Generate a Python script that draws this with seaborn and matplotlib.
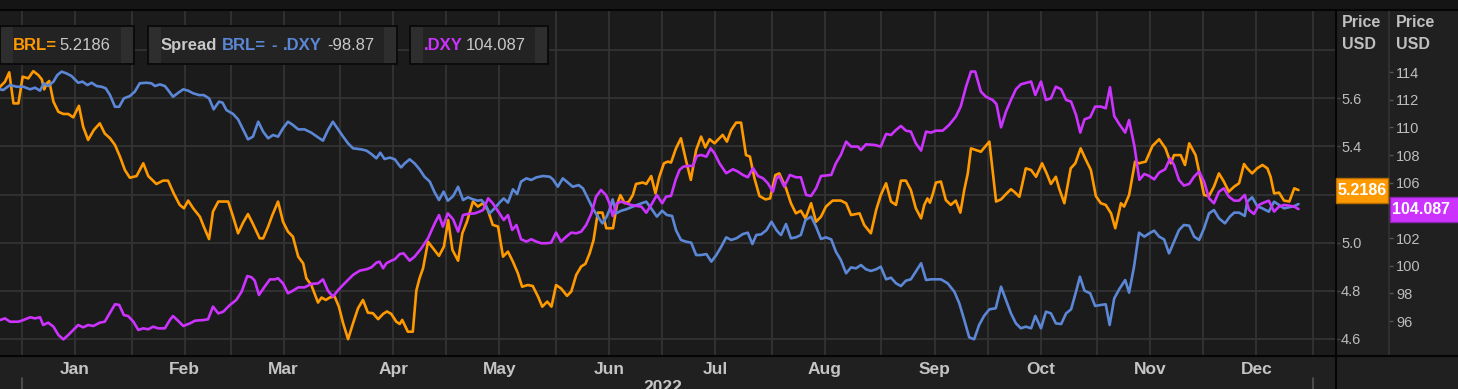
import numpy as np
import pandas as pd
import matplotlib
matplotlib.use("Agg")
import matplotlib.pyplot as plt
from matplotlib.patches import Rectangle
from matplotlib.lines import Line2D
import seaborn as sns

# ---------------- data (days since 2022-01-01, values) ----------------
brl_day = [-6.2,-4.8,-3.6,-2.4,-1.0,0.2,1.8,3.2,4.6,5.6,6.3,7.0,7.7,8.9,10.3,11.7,13.1,14.5,16.1,17.3,
           18.7,20.3,22.0,23.4,24.9,26.3,27.7,29.1,30.5,32.4,34.3,35.7,38.0,39.9,41.3,42.9,44.6,45.8,47.0,48.4,
           50.3,51.4,52.9,54.0,55.5,58.3,59.7,61.1,62.5,63.9,65.3,67.2,68.2,69.6,70.8,72.4,73.8,75.2,76.6,78.1,
           79.5,80.4,81.8,83.7,84.7,85.9,87.0,88.4,89.6,90.8,92.2,93.6,95.0,96.4,97.8,99.2,100.7,102.1,103.2,104.4,
           105.8,106.8,
           107.5,109.1,110.5,111.5,112.4,113.4,114.8,116.2,117.9,119.3,120.5,121.7,123.3,124.5,125.8,
           127.5,128.9,130.3,131.7,133.1,134.6,136.0,137.4,138.8,140.2,141.4,143.0,144.4,145.9,147.1,
           148.5,149.7,151.0,152.4,154.1,155.3,156.7,158.1,159.3,160.5,161.6,162.8,164.1,165.2,167.1,
           168.2,169.2,170.4,171.6,172.7,173.6,175.5,176.5,177.9,179.1,180.2,181.5,182.6,183.5,184.9,
           186.3,187.7,189.1,190.6,192.0,193.2,194.4,195.8,196.7,198.1,199.3,200.5,201.9,203.3,204.7,
           205.8,207.1,208.5,210.2,211.5,213.0,214.1,
           216.0,217.4,218.8,220.2,221.5,223.1,224.5,225.9,227.3,229.2,231.5,233.0,234.4,236.8,238.1,
           240.0,241.5,242.8,244.3,245.7,247.1,248.5,249.9,251.3,252.7,254.2,255.1,256.0,256.7,257.5,
           258.4,259.8,261.2,262.6,264.0,265.3,266.4,267.4,268.3,269.7,271.1,273.5,275.4,276.8,278.2,
           279.6,280.5,282.0,283.8,285.3,286.7,288.4,289.7,290.9,292.3,293.2,294.7,296.5,297.8,299.3,
           300.8,302.2,303.6,305.0,306.4,307.9,309.1,310.7,311.6,313.0,314.7,315.8,317.7,319.6,321.5,
           323.3,324.8,325.7,327.6,328.8,330.0,331.8,332.8,334.2,335.6,337.0,338.4,339.8,341.2,342.7,
           344.1,345.5,346.4,347.8,349.2,350.7,352.1,353.0,354.0,355.4,356.8,358.3,359.7,360.9]
brl_val = [5.648,5.669,5.708,5.579,5.579,5.690,5.683,5.713,5.697,5.679,5.637,5.662,5.672,5.586,5.544,
           5.535,5.535,5.521,5.569,5.482,5.427,5.468,5.496,5.454,5.434,5.406,5.358,5.302,5.270,5.277,
           5.330,5.277,5.244,5.258,5.258,5.205,5.157,5.143,5.175,5.143,5.108,5.067,5.015,5.129,5.171,
           5.171,5.108,5.039,5.083,5.119,5.078,5.018,5.018,5.067,5.115,5.171,5.087,5.046,5.025,4.942,
           4.914,4.852,4.824,4.751,4.772,4.762,4.772,4.776,4.734,4.665,4.599,4.665,4.727,4.762,4.709,
           4.707,4.682,4.704,4.714,4.704,4.672,4.662,
           4.679,4.630,4.630,4.801,4.852,4.894,5.004,4.977,4.945,4.984,5.094,4.970,4.925,5.039,5.087,
           5.171,5.150,5.164,5.136,5.074,5.067,4.942,4.963,4.921,4.873,4.817,4.824,4.820,4.776,4.734,
           4.755,4.734,4.824,4.810,4.779,4.797,4.866,4.901,4.912,4.956,5.011,5.125,5.125,5.060,5.060,
           5.157,5.198,5.164,5.171,5.198,5.244,5.250,5.244,5.277,5.205,5.274,5.330,5.337,5.333,5.392,
           5.434,5.344,5.261,5.385,5.441,5.396,5.430,5.413,5.427,5.448,5.420,5.468,5.499,5.499,5.364,
           5.358,5.267,5.194,5.180,5.184,5.281,5.288,
           5.226,5.164,5.122,5.133,5.101,5.164,5.087,5.108,5.150,5.175,5.175,5.164,5.115,5.122,5.074,
           5.039,5.136,5.198,5.247,5.171,5.157,5.258,5.258,5.219,5.143,5.101,5.157,5.184,5.166,5.202,
           5.250,5.254,5.177,5.157,5.175,5.125,5.219,5.288,5.392,5.385,5.378,5.420,5.171,5.180,5.202,
           5.222,5.212,5.191,5.309,5.302,5.274,5.330,5.288,5.244,5.274,5.226,5.164,5.309,5.330,5.392,
           5.344,5.302,5.194,5.164,5.157,5.122,5.060,5.164,5.150,5.198,5.337,5.330,5.337,5.402,5.430,
           5.392,5.330,5.364,5.364,5.323,5.413,5.364,5.295,5.198,5.194,5.233,5.288,5.254,5.212,5.233,
           5.247,5.327,5.309,5.288,5.309,5.323,5.309,5.274,5.205,5.208,5.175,5.171,5.226,5.2186]

dxy_day = [-6.2,-4.8,-3.4,-1.0,0.4,2.3,3.7,5.1,6.0,7.4,8.9,10.3,11.7,13.1,14.5,15.9,17.3,18.7,20.2,22.0,
           23.4,24.9,26.3,27.5,28.8,30.0,31.5,32.9,34.3,35.7,37.1,38.5,40.4,41.8,42.7,44.2,45.6,47.5,48.9,51.2,
           52.6,54.0,55.5,56.9,58.8,60.6,62.1,63.7,64.9,65.8,67.0,68.6,70.1,71.5,72.4,73.8,75.2,76.6,78.1,79.9,
           81.8,83.7,85.1,86.5,87.9,89.4,91.2,93.6,95.5,97.4,98.8,100.2,101.1,102.1,103.0,104.4,105.4,106.8,
           107.9,109.6,111.0,112.9,114.8,116.7,117.9,119.0,120.4,121.9,123.3,124.7,126.1,128.0,129.4,
           130.4,131.8,133.1,135.0,136.2,137.4,138.6,139.8,141.1,142.6,144.0,145.4,146.8,148.2,149.6,
           151.0,152.4,153.9,155.3,156.7,158.1,159.5,161.0,162.3,163.7,165.1,166.1,167.0,168.2,169.4,
           170.8,172.2,173.6,175.1,176.5,177.9,179.5,181.0,182.1,183.5,184.8,185.9,187.0,188.3,189.7,
           190.8,192.0,193.5,194.7,195.8,197.2,199.1,201.0,202.4,203.8,205.2,206.7,208.1,209.5,210.9,
           212.3,213.3,214.1,
           215.5,217.1,218.8,220.2,221.7,223.1,224.5,225.9,228.8,230.1,231.5,233.0,234.4,236.3,237.2,
           238.6,241.0,242.8,244.3,245.7,247.1,248.5,249.9,251.3,252.7,254.2,255.6,257.0,258.4,260.3,
           262.1,264.0,265.4,266.9,268.3,269.5,271.1,272.5,274.4,275.5,276.8,278.2,279.6,281.0,282.4,
           285.3,286.5,288.1,289.5,290.9,292.3,293.8,295.2,296.6,298.0,299.2,300.4,302.0,303.4,305.0,
           306.4,307.6,308.8,310.2,311.9,313.0,314.5,315.9,317.3,318.7,320.1,321.5,
           323.2,324.6,325.7,327.1,328.5,330.0,331.4,332.8,334.2,335.6,337.0,338.4,339.8,341.2,342.7,
           344.1,345.7,346.9,348.3,349.7,351.1,352.5,354.0,355.4,356.8,358.2,359.7,360.9]
dxy_val = [96.07,96.19,95.95,95.95,96.07,96.27,96.19,96.27,95.71,95.88,95.59,94.99,94.67,94.99,95.35,
           95.71,95.54,95.71,95.64,95.88,95.95,96.60,97.21,97.16,96.43,96.36,95.95,95.35,95.47,95.40,
           95.59,95.47,95.47,96.07,96.36,96.00,95.64,95.83,96.02,96.07,96.12,97.04,96.55,96.67,97.16,
           97.52,98.12,99.25,99.16,98.92,97.88,98.48,99.01,99.01,99.09,98.72,98.00,98.19,98.43,98.43,
           98.68,98.72,99.01,98.19,97.76,98.24,98.72,99.33,99.64,99.74,99.88,100.22,100.29,99.81,100.17,
           100.36,100.46,100.84,
           100.89,100.36,100.65,101.25,101.98,103.06,103.66,102.82,103.78,103.35,102.46,103.66,103.74,103.78,103.91,
           104.03,104.87,104.51,103.78,103.30,103.66,102.58,102.94,101.91,101.74,101.91,101.74,101.62,101.62,101.66,
           102.39,101.74,102.10,102.39,102.34,102.46,102.94,103.78,104.99,105.47,105.11,104.51,103.59,104.51,104.63,
           104.51,104.39,104.32,104.27,103.83,104.39,105.11,104.51,104.99,105.04,106.20,106.92,107.16,107.21,107.21,
           107.93,108.00,107.88,108.48,108.12,107.40,106.68,106.97,106.80,106.56,106.39,107.04,106.48,106.32,105.95,
           105.35,106.32,106.48,
           105.71,106.56,106.39,106.39,105.11,105.04,105.59,106.48,106.56,107.40,108.00,108.97,108.61,108.61,108.36,
           108.77,108.73,108.61,109.52,109.45,109.81,110.10,109.76,109.69,108.85,108.32,109.69,109.62,109.76,109.76,
           110.17,110.77,111.50,112.94,114.03,114.03,112.58,112.22,111.98,111.69,110.00,111.14,111.98,112.75,113.11,
           113.31,112.34,113.31,111.98,112.10,112.94,112.75,111.98,111.86,110.90,109.62,110.58,110.73,111.50,111.50,
           111.38,112.90,110.82,110.24,109.62,110.53,108.65,106.20,106.63,106.48,106.24,106.73,
           106.97,107.76,107.28,106.20,105.79,105.91,106.44,106.80,106.07,104.87,104.51,105.35,105.59,104.99,104.70,
           104.70,105.11,104.03,103.74,104.39,104.56,104.70,103.91,104.27,104.39,104.34,104.27,104.087]

spread_day = [-6.2,-5.3,-3.4,-1.5,0.4,2.3,3.7,5.1,6.2,7.4,8.9,10.0,11.2,12.6,14.0,15.9,17.1,18.5,19.7,21.1,
              22.5,23.7,24.9,26.3,27.5,28.8,30.5,31.9,33.3,35.2,36.6,37.6,39.0,40.4,41.3,42.7,44.2,45.6,47.0,48.4,
              50.1,51.4,52.9,54.2,55.7,56.7,57.8,59.7,61.1,62.5,63.9,65.3,66.8,68.2,69.6,71.0,72.4,73.8,75.2,76.6,
              78.1,79.9,81.8,83.7,85.1,86.5,87.9,89.4,90.8,92.2,93.6,96.0,97.4,98.8,100.2,101.3,102.5,104.0,105.4,106.8,
              107.2,108.2,109.6,111.0,112.4,113.8,115.3,116.7,117.9,119.2,120.4,121.9,123.3,124.7,126.1,
              127.5,128.9,129.9,131.1,132.2,133.6,135.0,136.2,137.4,138.8,140.0,141.1,142.6,144.0,145.4,
              147.3,149.2,150.1,151.5,152.9,154.4,155.7,157.4,158.6,160.0,161.4,162.8,164.1,165.2,166.1,
              167.0,168.0,169.4,170.8,172.7,174.6,176.5,177.9,179.5,181.0,182.3,183.8,184.9,186.3,187.8,
              189.2,190.6,192.0,193.5,194.9,196.3,197.7,199.1,200.5,202.0,203.8,205.2,206.5,207.6,209.0,
              210.5,211.9,213.3,214.1,
              214.6,216.0,217.4,218.8,220.2,221.5,223.1,224.5,225.9,227.3,228.8,230.1,231.5,233.0,234.4,
              235.8,237.2,238.6,240.0,241.5,242.8,244.3,245.7,247.1,248.5,249.9,251.3,252.7,254.2,255.6,
              257.0,259.8,261.7,263.6,265.0,266.4,267.8,269.2,270.6,272.0,273.5,275.3,276.8,278.2,279.6,
              281.0,282.4,283.8,285.3,286.5,288.1,289.5,290.9,292.3,293.8,295.2,296.6,298.0,299.1,300.4,
              302.0,303.4,305.0,306.4,307.5,308.8,310.2,311.9,313.0,314.4,315.8,317.3,318.7,320.1,321.5,
              322.9,324.3,325.7,327.1,328.5,330.0,331.4,332.8,334.2,335.6,337.0,338.4,340.1,341.5,342.7,
              344.1,345.7,346.4,347.8,349.2,350.7,352.5,354.0,355.4,356.8,358.2,359.7,360.9]
spread_val = [-90.51,-90.56,-90.20,-90.32,-90.32,-90.51,-90.39,-90.61,-90.07,-90.27,-89.95,-89.47,-89.22,-89.35,-89.54,
              -90.03,-89.95,-90.20,-90.03,-90.27,-90.32,-90.44,-90.93,-91.78,-91.78,-91.17,-91.00,-90.68,-90.07,-90.03,
              -90.07,-90.27,-90.15,-90.27,-90.56,-91.05,-90.76,-90.51,-90.61,-90.80,-90.93,-90.93,-91.17,-91.97,-91.41,
              -91.48,-92.02,-92.31,-92.70,-93.43,-94.16,-93.96,-92.87,-93.60,-94.08,-93.84,-93.96,-93.35,-92.87,-93.11,
              -93.43,-93.43,-93.67,-94.01,-94.25,-93.48,-92.87,-93.43,-93.96,-94.45,-94.81,-94.89,-94.98,-95.23,-95.54,
              -95.13,-95.59,-95.49,-95.61,-96.10,
              -96.20,-95.91,-95.61,-95.91,-96.34,-96.88,-97.24,-98.04,-98.58,-97.97,-98.63,-98.29,-97.61,-98.58,-98.38,
              -98.53,-98.63,-98.58,-98.94,-99.55,-99.19,-98.77,-98.46,-98.77,-97.80,-98.14,-97.24,-97.00,-97.12,-96.93,
              -96.83,-96.88,-97.07,-97.61,-97.00,-97.32,-97.61,-97.49,-97.73,-98.46,-99.19,-99.79,-100.28,-99.84,-99.31,
              -98.53,-99.55,-99.36,-99.26,-99.06,-98.87,-98.70,-99.19,-99.79,-99.36,-99.67,-99.74,-100.77,-101.49,-101.62,
              -101.69,-102.59,-102.59,-102.52,-103.07,-102.59,-101.98,-101.30,-101.49,-101.37,-101.06,-100.96,-101.79,-101.13,-101.08,
              -100.77,-100.16,-100.77,-101.01,
              -101.13,-100.33,-101.37,-101.30,-101.13,-100.04,-99.79,-100.52,-101.42,-101.30,-101.45,-102.34,-102.95,-103.92,-103.49,
              -103.56,-103.32,-103.63,-103.75,-103.63,-103.44,-104.36,-104.24,-104.65,-104.85,-104.46,-104.36,-103.80,-103.19,-104.41,
              -104.36,-104.36,-104.65,-105.26,-106.11,-107.32,-108.59,-108.73,-107.69,-107.03,-106.55,-106.47,-104.90,-105.87,-106.84,
              -107.57,-107.93,-107.81,-107.93,-107.03,-107.93,-106.72,-106.84,-107.57,-107.62,-106.84,-106.55,-105.26,-104.17,-105.19,
              -105.38,-106.30,-106.23,-106.18,-107.69,-105.75,-105.09,-104.41,-105.33,-103.44,-100.96,-101.25,-101.01,-100.81,-101.25,
              -101.45,-102.47,-101.62,-100.77,-100.40,-100.45,-101.25,-101.49,-100.64,-99.55,-99.31,-99.91,-100.28,-99.79,-99.50,
              -99.50,-99.74,-98.70,-98.38,-99.02,-99.19,-99.43,-98.70,-98.94,-99.19,-99.11,-99.02,-98.87]

months = ["Jan", "Feb", "Mar", "Apr", "May", "Jun", "Jul", "Aug", "Sep", "Oct", "Nov", "Dec"]
year_label = "2022"
brl_name, dxy_name = "BRL=", ".DXY"
spread_name = "Spread"
axis_title = ["Price", "USD"]
brl_ticks = [4.6, 4.8, 5.0, 5.2, 5.4, 5.6]
dxy_ticks = [96, 98, 100, 102, 104, 106, 108, 110, 112, 114]

# ---------------- style ----------------
sns.set_theme(style="dark")
plt.rcParams["font.family"] = ["Liberation Sans", "DejaVu Sans"]

ORANGE = "#FF9900"
PURPLE = "#CC33FF"
BLUE = "#5B87D6"
FIG_BG = "#202020"
PLOT_BG = "#1b1b1b"
GRID = "#333333"
TXT = "#bdbdbd"
PX = 72 / 100  # points per pixel

W, H = 1458, 389
fig = plt.figure(figsize=(W / 100, H / 100), dpi=100, facecolor=FIG_BG)

def fx(x):
    return x / W

def fy(y):
    return 1 - y / H

PL, PR, PT, PB = 0, 1336, 11, 356
ax = fig.add_axes([fx(PL), fy(PB), fx(PR - PL), (PB - PT) / H])
ax.set_facecolor(PLOT_BG)
ax_spr = ax.twinx()
ax_dxy = ax.twinx()

base = pd.Timestamp("2022-01-01")
def to_dt(days):
    return base + pd.to_timedelta(np.asarray(days, dtype=float), unit="D")

sns.lineplot(x=to_dt(brl_day), y=brl_val, ax=ax, color=ORANGE, linewidth=1.9, estimator=None, sort=False)
sns.lineplot(x=to_dt(spread_day), y=spread_val, ax=ax_spr, color=BLUE, linewidth=1.9, estimator=None, sort=False)
sns.lineplot(x=to_dt(dxy_day), y=dxy_val, ax=ax_dxy, color=PURPLE, linewidth=1.9, estimator=None, sort=False)

for a in (ax, ax_spr, ax_dxy):
    a.set_xlabel("")
    a.set_ylabel("")
    for s in a.spines.values():
        s.set_visible(False)

ax.set_xlim(base + pd.Timedelta(days=-6.21), base + pd.Timedelta(days=371.5))
ax.set_ylim(4.529, 5.963)
ax_dxy.set_ylim(93.47, 118.41)
ax_spr.set_ylim(-109.95, -84.80)

# x ticks: month starts (marks + grid), mid-month (labels + grid)
month_starts = pd.date_range("2022-01-01", "2023-01-01", freq="MS")
mid_months = pd.date_range("2022-01-01", periods=12, freq="MS") + pd.Timedelta(days=15)
ax.set_xticks(month_starts, labels=[""] * len(month_starts))
ax.set_xticks(mid_months, labels=months, minor=True, fontweight="bold", fontsize=12.5, color="#c4c4c4")
ax.tick_params(axis="x", which="major", length=7 * PX, width=1, color="#454545", direction="out")
ax.tick_params(axis="x", which="minor", length=0, pad=6 * PX)

# BRL axis (right, inner)
ax.yaxis.tick_right()
ax.set_yticks(brl_ticks, labels=[f"{t:.1f}" for t in brl_ticks])
ax.set_yticks([5.8], minor=True)
ax.tick_params(axis="y", which="major", length=4 * PX, width=1, color="#444444", pad=1 * PX,
               labelsize=10.5, labelcolor=TXT, direction="out")
ax.tick_params(axis="y", which="minor", length=0)
ax.grid(True, which="both", color=GRID, linewidth=1.3)
ax.set_axisbelow(True)

# DXY axis (right, outer)
ax_dxy.grid(False)
ax_dxy.spines["right"].set_visible(True)
ax_dxy.spines["right"].set_position(("outward", 53 * PX))
ax_dxy.spines["right"].set_color("#343434")
ax_dxy.spines["right"].set_linewidth(1.2)
ax_dxy.set_yticks(dxy_ticks, labels=[str(t) for t in dxy_ticks])
ax_dxy.tick_params(axis="y", length=4 * PX, width=1, color="#555555", pad=3 * PX, labelsize=10.5,
                   labelcolor=TXT, direction="out")

# spread axis hidden
ax_spr.grid(False)
ax_spr.set_yticks([])
ax_spr.tick_params(axis="both", length=0)

# ---------------- frame decorations ----------------
fig.patches.append(Rectangle((0, fy(10)), 1, 10 / H, transform=fig.transFigure,
                             facecolor="#151515", edgecolor="none", zorder=0))
for (x0, y0, x1, y1, c, lw) in [(0, 10, W, 10, "#050505", 1.5),
                                (0, 356, W, 356, "#050505", 1.5),
                                (1336, 10, 1336, H, "#050505", 1.5)]:
    fig.lines.append(Line2D([fx(x0), fx(x1)], [fy(y0), fy(y1)], transform=fig.transFigure,
                            color=c, linewidth=lw, zorder=5))

# year-boundary marks in the date band
fig.canvas.draw()
for yd_ in (pd.Timestamp("2022-01-01"), pd.Timestamp("2023-01-01")):
    xd = ax.transData.transform((plt.matplotlib.dates.date2num(yd_), 0))[0]
    fig.lines.append(Line2D([xd / W, xd / W], [fy(378), fy(389)], transform=fig.transFigure,
                            color="#4a4a4a", linewidth=1.5, zorder=5))

# axis headers
for xh in (1342, 1396):
    fig.text(fx(xh), fy(27), axis_title[0], ha="left", va="baseline", fontsize=11.5,
             fontweight="bold", color="#c0c0c0")
    fig.text(fx(xh), fy(49), axis_title[1], ha="left", va="baseline", fontsize=11.5,
             fontweight="bold", color="#c0c0c0")

# year label under months (cut by the bottom edge as in the original)
fig.text(fx(663), fy(391.5), year_label, ha="center", va="baseline", fontsize=12.5,
         fontweight="bold", color="#c4c4c4")

# last-value tags
def disp_y(a, v):
    return a.transData.transform((0, v))[1]

yb = disp_y(ax, brl_val[-1])
yd = disp_y(ax_dxy, dxy_val[-1])
fig.patches.append(Rectangle((1336, yb - 12.5), 52, 25, transform=None, facecolor=ORANGE,
                             edgecolor="#b36b00", linewidth=1, zorder=6))
fig.text(1338 / W, yb / H, f"{brl_val[-1]:.4f}", ha="left", va="center", fontsize=11.5,
         fontweight="bold", color="white", zorder=7)
fig.patches.append(Rectangle((1390, yd - 12.5), 70, 25, transform=None, facecolor=PURPLE,
                             edgecolor="#8f24b3", linewidth=1, zorder=6))
fig.text(1392 / W, yd / H, f"{dxy_val[-1]:.3f}", ha="left", va="center", fontsize=11.5,
         fontweight="bold", color="white", zorder=7)

# ---------------- legend boxes ----------------
def box(x0, x1):
    fig.patches.append(Rectangle((fx(x0), fy(64)), fx(x1 - x0), 38 / H, transform=fig.transFigure,
                                 facecolor="#232323", edgecolor="#080808", linewidth=1.2, zorder=8))
    for sx in (x0 + 1, x1 - 13):
        fig.patches.append(Rectangle((fx(sx), fy(63)), fx(12), 36 / H, transform=fig.transFigure,
                                     facecolor="#2e2e2e", edgecolor="none", zorder=8))

box(0, 134)
box(148, 397)
box(410, 548)
ly = fy(45.5)
def t(x, s, c, bold=False):
    fig.text(fx(x), ly, s, ha="left", va="center", fontsize=12, color=c,
             fontweight="bold" if bold else "normal", zorder=9)

t(13, brl_name, ORANGE, True)
t(59, f"{brl_val[-1]:.4f}", "#c8c8c8")
t(161, spread_name, "#c8c8c8", True)
t(222, brl_name, BLUE, True)
t(271, "-", BLUE, True)
t(283, dxy_name, BLUE, True)
t(327, f"{spread_val[-1]:.2f}", "#c8c8c8")
t(424, dxy_name, PURPLE, True)
t(466, f"{dxy_val[-1]:.3f}", "#c8c8c8")

fig.savefig("out.png", dpi=100, facecolor=FIG_BG)
